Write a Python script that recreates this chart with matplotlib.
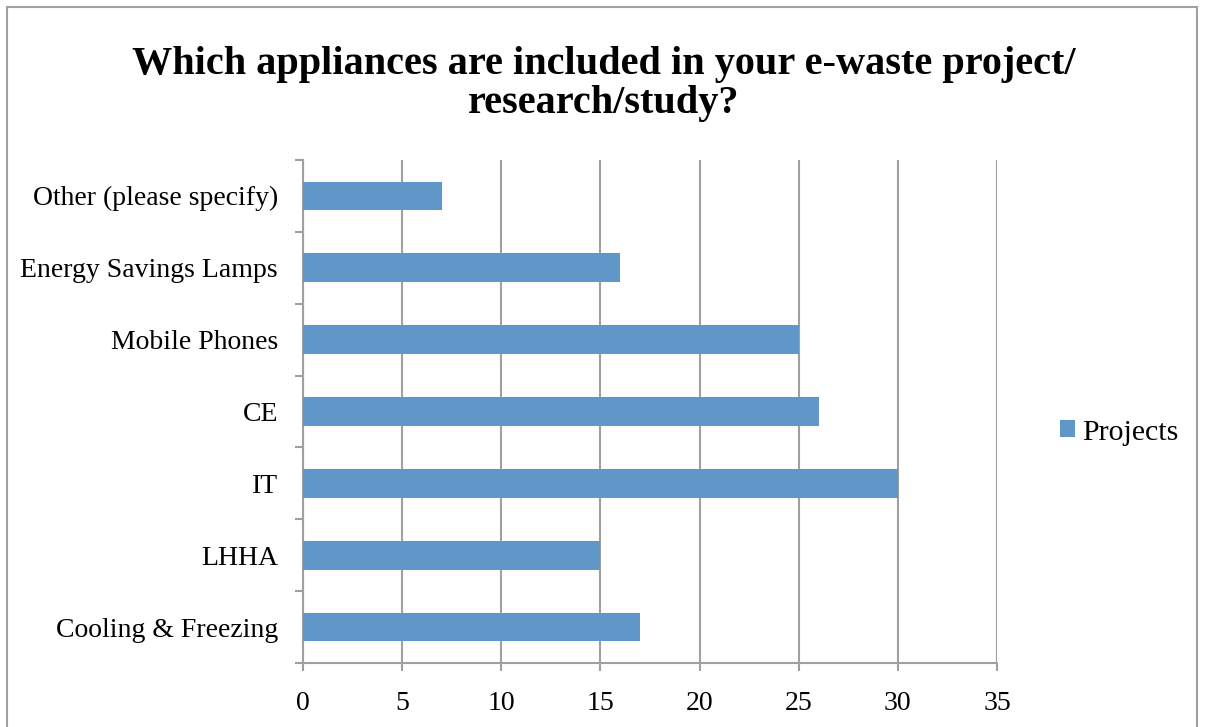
import matplotlib.pyplot as plt
from matplotlib.patches import Rectangle

categorias = ['Cooling & Freezing', 'LHHA', 'IT', 'CE', 'Mobile Phones',
              'Energy Savings Lamps', 'Other (please specify)']
projetos = [17, 15, 30, 26, 25, 16, 7]
xticks = [0, 5, 10, 15, 20, 25, 30, 35]

plt.rcParams['font.family'] = ['Liberation Serif', 'DejaVu Serif']

fig = plt.figure(figsize=(12.07, 7.27), dpi=100)
ax = fig.add_axes([0.251, 0.088, 0.575, 0.692])

# moldura cinza em volta do grafico (estilo Excel)
fig.patches.append(Rectangle((7 / 1207, -0.05), 1190 / 1207, 1.05 - 7 / 727,
                             transform=fig.transFigure, fill=False,
                             edgecolor='#a0a0a0', linewidth=1.5))

pos = list(range(len(categorias)))
ax.barh(pos, projetos, height=0.4, color='#6097c9', label='Projects', zorder=3)

ax.set_xlim(0, 35)
ax.set_ylim(-0.5, len(categorias) - 0.5)
ax.set_xticks(xticks)
ax.set_xticklabels([str(v) for v in xticks], fontsize=20)
ax.set_yticks(pos)
ax.set_yticklabels(categorias, fontsize=20)
ax.tick_params(axis='y', which='major', length=0, pad=18)
ax.set_yticks([p - 0.5 for p in pos] + [len(pos) - 0.5], minor=True)
ax.tick_params(axis='y', which='minor', length=6, color='#a0a0a0', width=1.5)
ax.tick_params(axis='x', length=6, color='#a0a0a0', width=1.5, pad=14)

ax.grid(axis='x', color='#a0a0a0', linewidth=1.5, zorder=0)
for lado in ['top', 'right']:
    ax.spines[lado].set_visible(False)
for lado in ['left', 'bottom']:
    ax.spines[lado].set_color('#a0a0a0')
    ax.spines[lado].set_linewidth(1.5)

fig.suptitle('Which appliances are included in your e-waste project/\nresearch/study?',
             x=0.5, y=0.937, va='top', fontsize=29, fontweight='bold', linespacing=1.07)

fig.legend(loc='center left', bbox_to_anchor=(0.878, 0.405), frameon=False,
           fontsize=21.5, handlelength=0.5, handleheight=0.5, handletextpad=0.25,
           borderpad=0, borderaxespad=0)

plt.savefig('out.png', dpi=100)
